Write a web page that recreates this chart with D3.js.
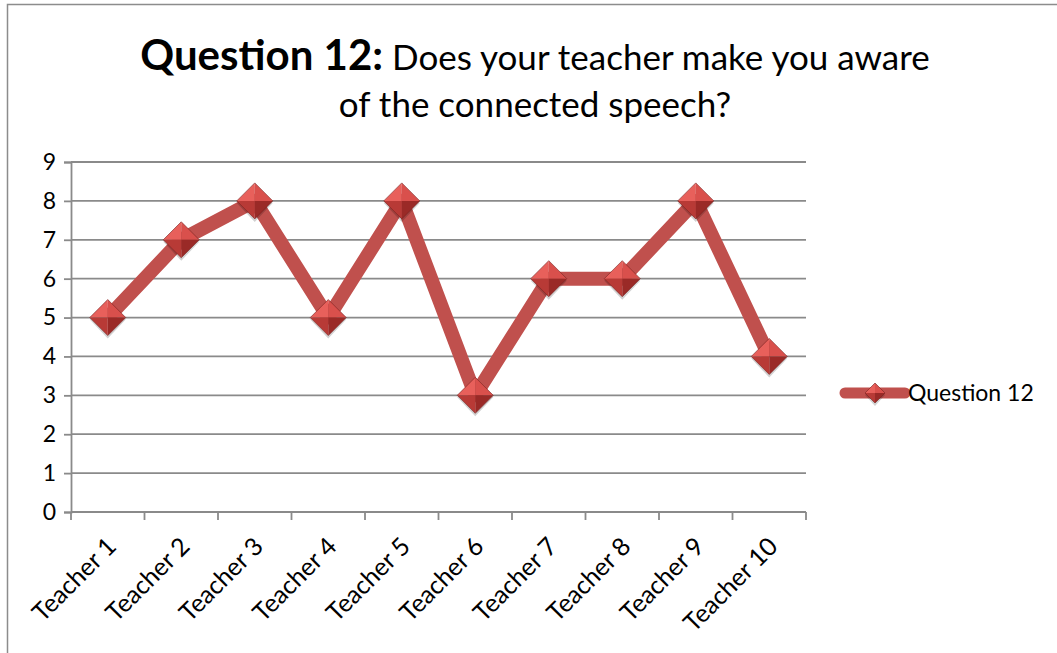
<!DOCTYPE html>
<html>
<head>
<meta charset="utf-8">
<script src="https://cdn.jsdelivr.net/npm/d3@7"></script>
<style>
  body { margin: 0; background: #fff; }
  text { font-family: Lato, "Open Sans", sans-serif; fill: #000; }
</style>
</head>
<body>
<svg id="chart" width="1057" height="653"></svg>
<script>
// data
var teachers = ["Teacher 1", "Teacher 2", "Teacher 3", "Teacher 4", "Teacher 5",
  "Teacher 6", "Teacher 7", "Teacher 8", "Teacher 9", "Teacher 10"];
var scores = [5, 7, 8, 5, 8, 3, 6, 6, 8, 4];
var yTicks = [0, 1, 2, 3, 4, 5, 6, 7, 8, 9];
var seriesName = "Question 12";

var margin = { top: 162, left: 71, right: 251, bottom: 141 },
  width = 1057 - margin.left - margin.right,
  height = 653 - margin.top - margin.bottom;

var svg = d3.select("#chart");

// chart frame
svg.append("rect")
  .attr("x", 7.5).attr("y", 4.5)
  .attr("width", 1060).attr("height", 660)
  .attr("fill", "none").attr("stroke", "#8c8c8c").attr("stroke-width", 1.5);

// title
var title = svg.append("text")
  .attr("x", 535).attr("y", 70)
  .attr("text-anchor", "middle");
title.append("tspan").style("font-weight", "bold").style("font-size", "42px").text("Question 12:");
title.append("tspan").style("font-size", "35px").text(" Does your teacher make you aware");
svg.append("text")
  .attr("x", 535).attr("y", 117)
  .attr("text-anchor", "middle")
  .style("font-size", "35px")
  .text("of the connected speech?");

var g = svg.append("g").attr("transform", `translate(${margin.left},${margin.top})`);

var x = d3.scaleBand().domain(teachers).range([0, width]);
var y = d3.scaleLinear().domain([0, 9]).range([height, 0]);

// gridlines
g.selectAll(".grid")
  .data(yTicks.slice(1))
  .enter().append("line")
  .attr("x1", 0).attr("x2", width)
  .attr("y1", d => y(d)).attr("y2", d => y(d))
  .attr("stroke", "#8a8a8a").attr("stroke-width", 1.8);

// y axis
var yAxis = g.append("g")
  .call(d3.axisLeft(y).tickValues(yTicks).tickSize(7).tickPadding(8).tickFormat(d3.format("d")));
yAxis.select(".domain").attr("stroke", "#8a8a8a").attr("stroke-width", 1.8);
yAxis.selectAll(".tick line").attr("stroke", "#8a8a8a").attr("stroke-width", 1.8);
yAxis.selectAll("text").style("font-size", "23px").attr("fill", "#000");

// x axis: ticks on band edges
var xAxis = g.append("g").attr("transform", `translate(0,${height})`);
xAxis.append("line")
  .attr("x1", 0).attr("x2", width)
  .attr("stroke", "#8a8a8a").attr("stroke-width", 1.8);
var edges = teachers.map(d => x(d)).concat([width]);
xAxis.selectAll(".edge")
  .data(edges)
  .enter().append("line")
  .attr("x1", d => d).attr("x2", d => d)
  .attr("y1", 0).attr("y2", 8)
  .attr("stroke", "#8a8a8a").attr("stroke-width", 1.8);
xAxis.selectAll(".lbl")
  .data(teachers)
  .enter().append("text")
  .attr("text-anchor", "end")
  .attr("transform", d => `translate(${x(d) + x.bandwidth() / 2 + 10},${36}) rotate(-45)`)
  .style("font-size", "25px")
  .text(d => d);

// line
var cx = (d, i) => x(teachers[i]) + x.bandwidth() / 2;
g.append("path")
  .datum(scores)
  .attr("d", d3.line().x(cx).y(d => y(d)))
  .attr("fill", "none")
  .attr("stroke", "#c0504d")
  .attr("stroke-width", 14)
  .attr("stroke-linejoin", "round");

// diamond marker drawn as four facets
function diamond(sel, r) {
  var facets = [
    { p: [[0, 0], [-r, 0], [0, -r]], c: "#e8605b" },
    { p: [[0, 0], [0, -r], [r, 0]], c: "#d9504c" },
    { p: [[0, 0], [r, 0], [0, r]], c: "#9a2a27" },
    { p: [[0, 0], [0, r], [-r, 0]], c: "#b83a36" }
  ];
  sel.append("path")
    .attr("d", `M${-r},${2}L0,${r + 3}L${r},${2}L0,${-r + 3}Z`)
    .attr("fill", "#000").attr("opacity", 0.18);
  sel.selectAll(".facet")
    .data(facets)
    .enter().append("path")
    .attr("d", f => "M" + f.p.join("L") + "Z")
    .attr("fill", f => f.c);
  sel.append("path")
    .attr("d", `M${-r},0L0,${-r}L${r},0L0,${r}Z`)
    .attr("fill", "none").attr("stroke", "#7a2220").attr("stroke-width", 1).attr("opacity", 0.6);
}

g.selectAll(".marker")
  .data(scores)
  .enter().append("g")
  .attr("transform", (d, i) => `translate(${cx(d, i)},${y(d)})`)
  .each(function () { diamond(d3.select(this), 18); });

// legend
var leg = svg.append("g").attr("transform", "translate(845,393)");
leg.append("line")
  .attr("x1", 0).attr("x2", 60)
  .attr("stroke", "#c0504d").attr("stroke-width", 11).attr("stroke-linecap", "round");
leg.append("g").attr("transform", "translate(30,0)").call(s => diamond(s, 10));
leg.append("text")
  .attr("x", 63).attr("y", 8)
  .style("font-size", "23px")
  .text(seriesName);
</script>
</body>
</html>
